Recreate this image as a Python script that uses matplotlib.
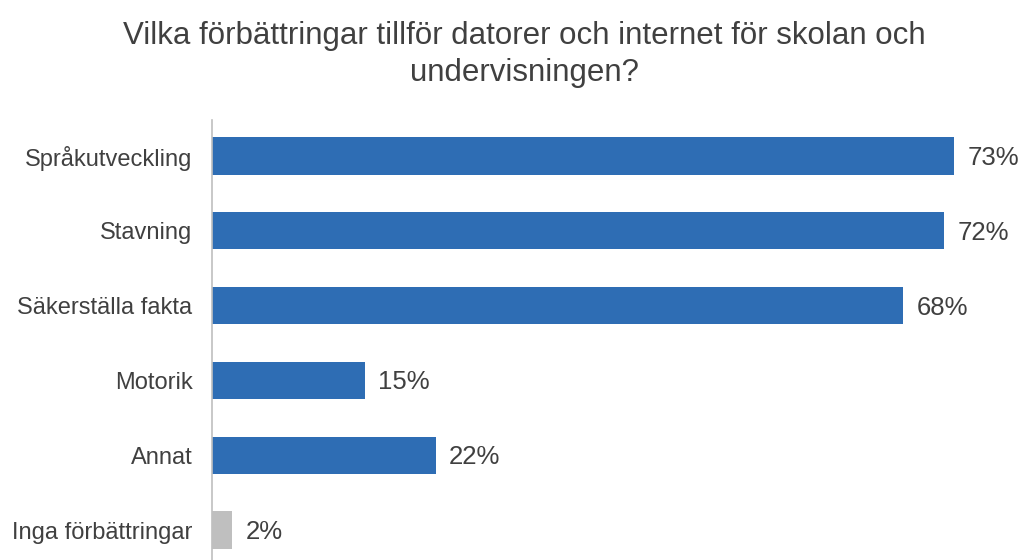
import matplotlib
matplotlib.use("Agg")
import matplotlib.pyplot as plt

categories = ["Språkutveckling", "Stavning", "Säkerställa fakta", "Motorik", "Annat", "Inga förbättringar"]
values = [73, 72, 68, 15, 22, 2]
colors = ["#2E6DB4", "#2E6DB4", "#2E6DB4", "#2E6DB4", "#2E6DB4", "#BFBFBF"]
title = "Vilka förbättringar tillför datorer och internet för skolan och\nundervisningen?"

plt.rcParams['font.family'] = ['Liberation Sans', 'DejaVu Sans']
text_col = "#404040"

fig = plt.figure(figsize=(10.22, 5.6), dpi=100)
ax = fig.add_axes([212 / 1022, 0.0, 793 / 1022, 440 / 560])

y = list(range(len(categories)))
ax.barh(y, values, height=0.5, color=colors)

for yi, v in zip(y, values):
    ax.annotate(f"{v}%", (v, yi), xytext=(9.5, -1.5), textcoords="offset points",
                va="center", ha="left", fontsize=18.5, color=text_col,
                annotation_clip=False)

ax.set_xlim(0, 78)
ax.set_ylim(5.4, -0.48)
ax.set_yticks(y)
ax.set_yticklabels(categories, fontsize=17, color=text_col)
ax.tick_params(axis="y", length=0, pad=14)
ax.set_xticks([])

for s in ["top", "right", "bottom"]:
    ax.spines[s].set_visible(False)
ax.spines["left"].set_color("#BFBFBF")
ax.spines["left"].set_linewidth(1.2)

fig.text(0.513, 0.903, title, ha="center", va="center", fontsize=22.5,
         color=text_col, linespacing=1.3)

fig.savefig("out.png", dpi=100, facecolor="white")
